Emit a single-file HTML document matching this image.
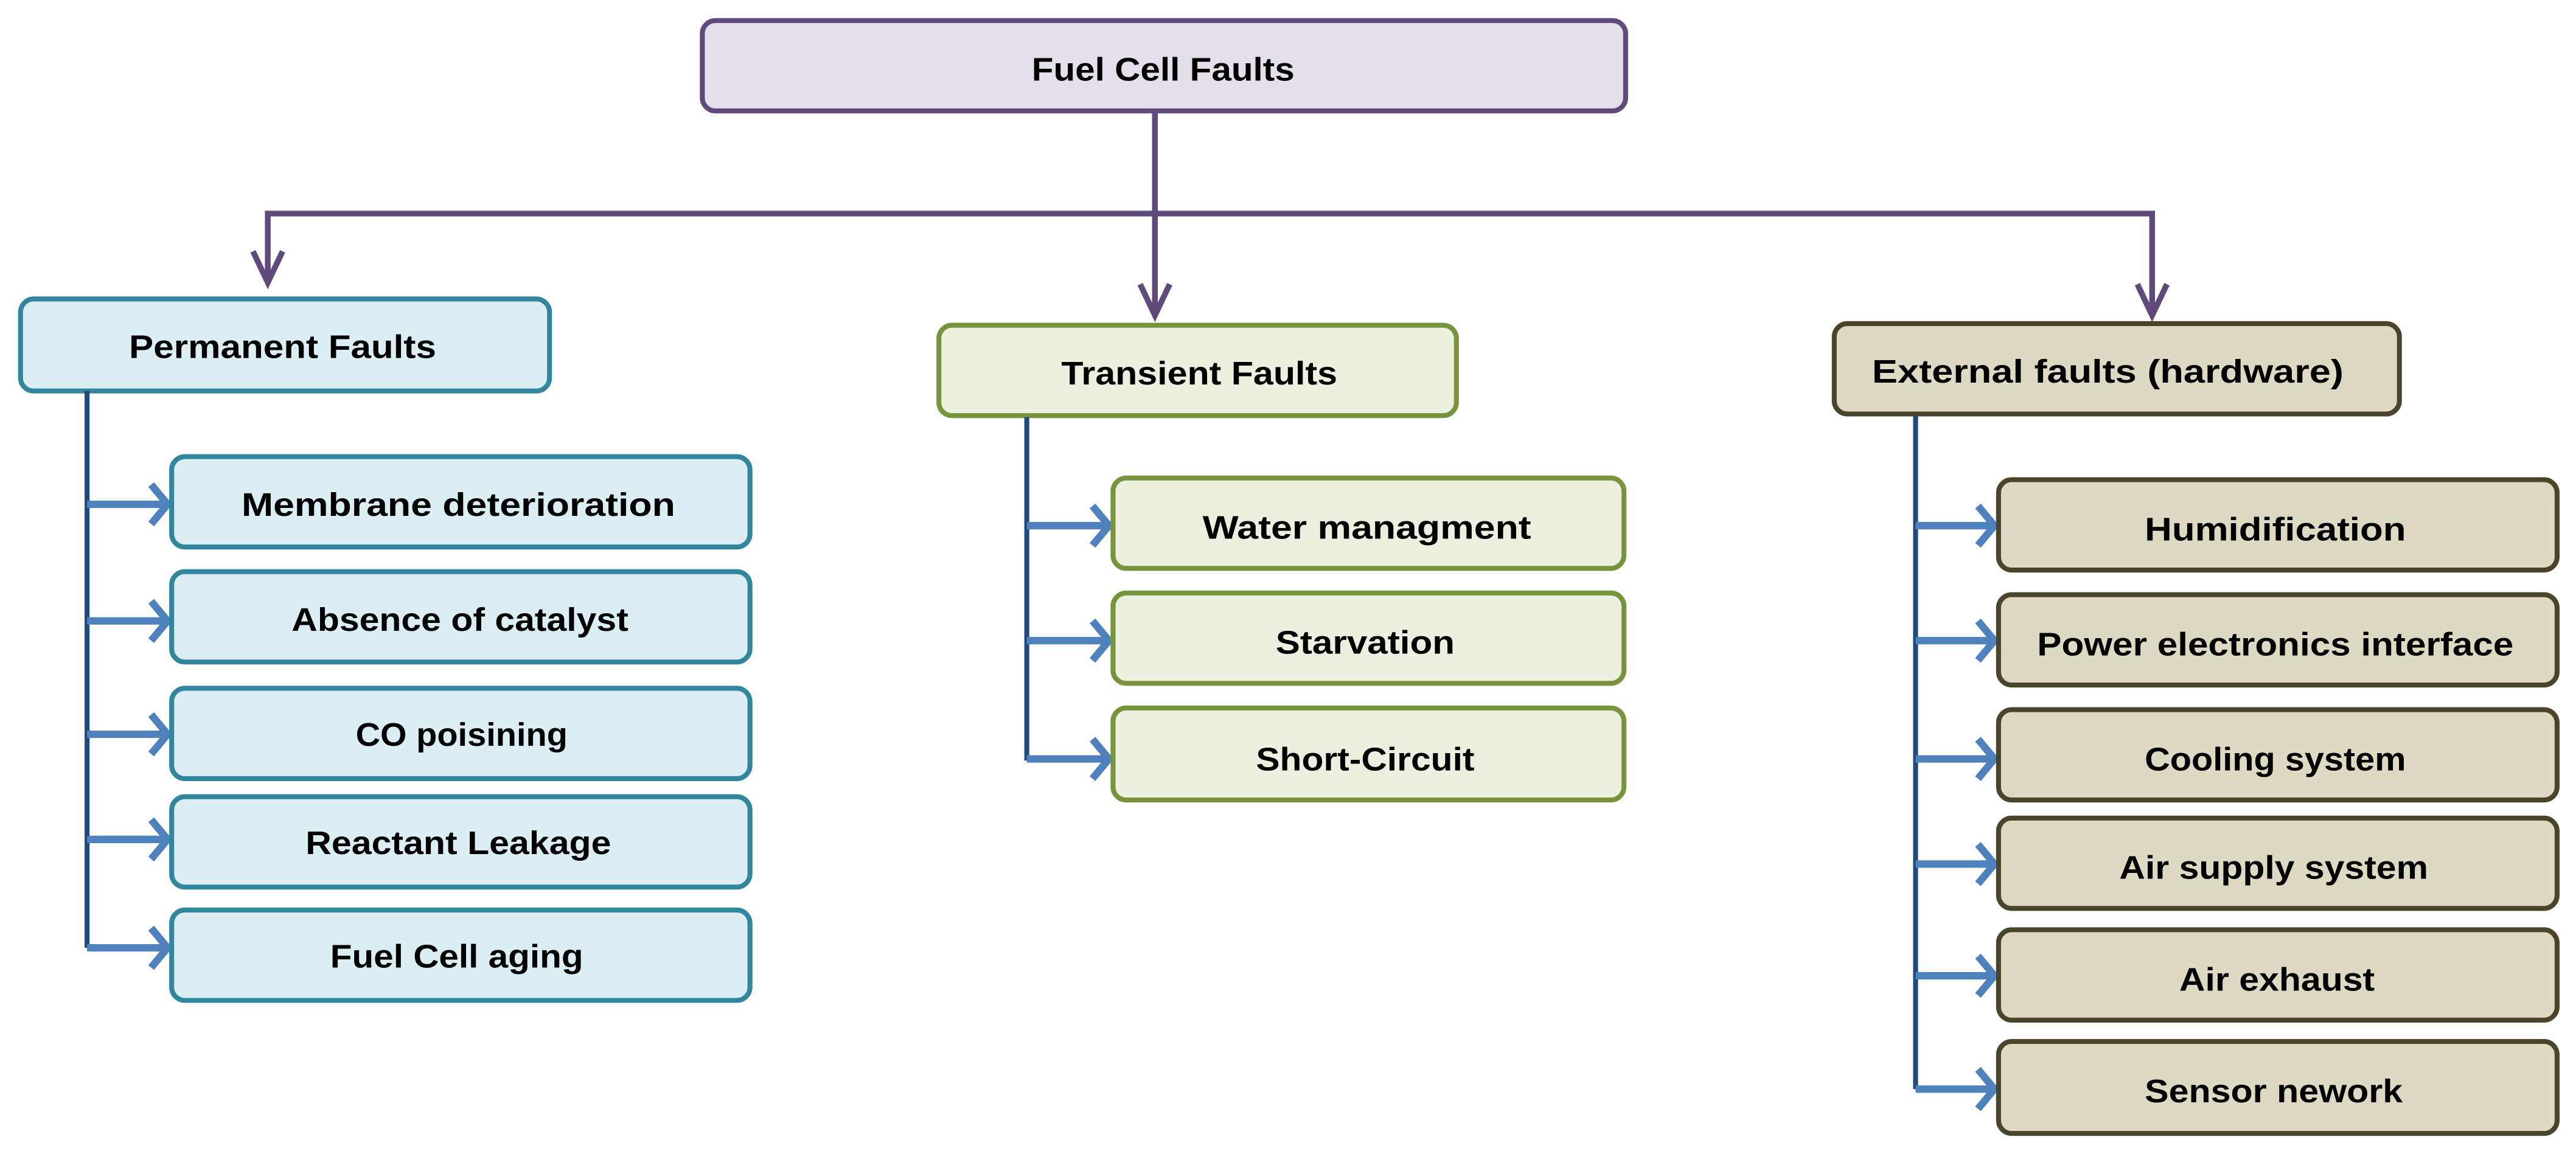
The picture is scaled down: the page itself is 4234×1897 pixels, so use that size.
<!DOCTYPE html>
<html><head><meta charset="utf-8"><style>
html,body{margin:0;padding:0;background:#fff}
svg{display:block}
text{font-family:"Liberation Sans",sans-serif;font-weight:bold;font-size:20px;fill:#000}
</style></head><body>
<svg width="4234" height="1897" viewBox="0 0 1568 702.5" xmlns="http://www.w3.org/2000/svg">
<g fill="none" stroke="#604a7b" stroke-width="3.5">
<line x1="703" y1="68" x2="703" y2="192"/>
<polyline points="163,172 163,130 1310,130 1310,192"/>
<polyline points="154,153 163,172 172,153"/>
<polyline points="694,173 703,192 712,173"/>
<polyline points="1301,173 1310,192 1319,173"/>
</g>
<g stroke-width="3">
<rect x="427.5" y="12.5" width="562" height="55" rx="8" fill="#e5dfec" stroke="#604a7b"/>
<rect x="12.5" y="182" width="322" height="56" rx="8" fill="#daeef3" stroke="#31859c"/>
<rect x="571.5" y="198" width="315" height="55" rx="8" fill="#ebf1de" stroke="#77933c"/>
<rect x="1116.5" y="197" width="344" height="55" rx="8" fill="#ddd9c3" stroke="#4a452a"/>
</g>
<g stroke="#1f497d" stroke-width="3" fill="none">
<line x1="53" y1="238" x2="53" y2="577"/>
<line x1="625" y1="254" x2="625" y2="463"/>
<line x1="1166" y1="253" x2="1166" y2="663"/>
</g>
<g stroke="#4f81bd" stroke-width="4.5" fill="none">
<path d="M53 307H102M92 295L102 307L92 319"/>
<path d="M53 378H102M92 366L102 378L92 390"/>
<path d="M53 447H102M92 435L102 447L92 459"/>
<path d="M53 511H102M92 499L102 511L92 523"/>
<path d="M53 577H102M92 565L102 577L92 589"/>
<path d="M625 320H675M665 308L675 320L665 332"/>
<path d="M625 390H675M665 378L675 390L665 402"/>
<path d="M625 462H675M665 450L675 462L665 474"/>
<path d="M1166 320H1214M1204 308L1214 320L1204 332"/>
<path d="M1166 390H1214M1204 378L1214 390L1204 402"/>
<path d="M1166 462H1214M1204 450L1214 462L1204 474"/>
<path d="M1166 526H1214M1204 514L1214 526L1204 538"/>
<path d="M1166 594H1214M1204 582L1214 594L1204 606"/>
<path d="M1166 663H1214M1204 651L1214 663L1204 675"/>
</g>
<g stroke-width="3" fill="#daeef3" stroke="#31859c">
<rect x="104.5" y="278" width="352" height="55" rx="8"/>
<rect x="104.5" y="348" width="352" height="55" rx="8"/>
<rect x="104.5" y="419" width="352" height="55" rx="8"/>
<rect x="104.5" y="485" width="352" height="55" rx="8"/>
<rect x="104.5" y="554" width="352" height="55" rx="8"/>
</g>
<g stroke-width="3" fill="#ebf1de" stroke="#77933c">
<rect x="677.5" y="291" width="311" height="55" rx="8"/>
<rect x="677.5" y="361" width="311" height="55" rx="8"/>
<rect x="677.5" y="431" width="311" height="56" rx="8"/>
</g>
<g stroke-width="3" fill="#ddd9c3" stroke="#4a452a">
<rect x="1216.5" y="292" width="340" height="55" rx="8"/>
<rect x="1216.5" y="362" width="340" height="55" rx="8"/>
<rect x="1216.5" y="432" width="340" height="55" rx="8"/>
<rect x="1216.5" y="498" width="340" height="55" rx="8"/>
<rect x="1216.5" y="566" width="340" height="55" rx="8"/>
<rect x="1216.5" y="634" width="340" height="56" rx="8"/>
</g>
<g text-anchor="middle">
<text x="708" y="49" textLength="160" lengthAdjust="spacingAndGlyphs">Fuel Cell Faults</text>
<text x="172" y="218" textLength="187" lengthAdjust="spacingAndGlyphs">Permanent Faults</text>
<text x="730" y="234" textLength="168" lengthAdjust="spacingAndGlyphs">Transient Faults</text>
<text x="1283" y="233" textLength="287" lengthAdjust="spacingAndGlyphs">External faults (hardware)</text>
<text x="279" y="314" textLength="264" lengthAdjust="spacingAndGlyphs">Membrane deterioration</text>
<text x="280" y="384" textLength="205" lengthAdjust="spacingAndGlyphs">Absence of catalyst</text>
<text x="281" y="454" textLength="129" lengthAdjust="spacingAndGlyphs">CO poisining</text>
<text x="279" y="520" textLength="186" lengthAdjust="spacingAndGlyphs">Reactant Leakage</text>
<text x="278" y="589" textLength="154" lengthAdjust="spacingAndGlyphs">Fuel Cell aging</text>
<text x="832" y="328" textLength="200" lengthAdjust="spacingAndGlyphs">Water managment</text>
<text x="831" y="398" textLength="109" lengthAdjust="spacingAndGlyphs">Starvation</text>
<text x="831" y="469" textLength="133" lengthAdjust="spacingAndGlyphs">Short-Circuit</text>
<text x="1385" y="329" textLength="159" lengthAdjust="spacingAndGlyphs">Humidification</text>
<text x="1385" y="399" textLength="290" lengthAdjust="spacingAndGlyphs">Power electronics interface</text>
<text x="1385" y="469" textLength="159" lengthAdjust="spacingAndGlyphs">Cooling system</text>
<text x="1384" y="535" textLength="188" lengthAdjust="spacingAndGlyphs">Air supply system</text>
<text x="1386" y="603" textLength="119" lengthAdjust="spacingAndGlyphs">Air exhaust</text>
<text x="1384" y="671" textLength="157" lengthAdjust="spacingAndGlyphs">Sensor nework</text>
</g>
</svg>
</body></html>
